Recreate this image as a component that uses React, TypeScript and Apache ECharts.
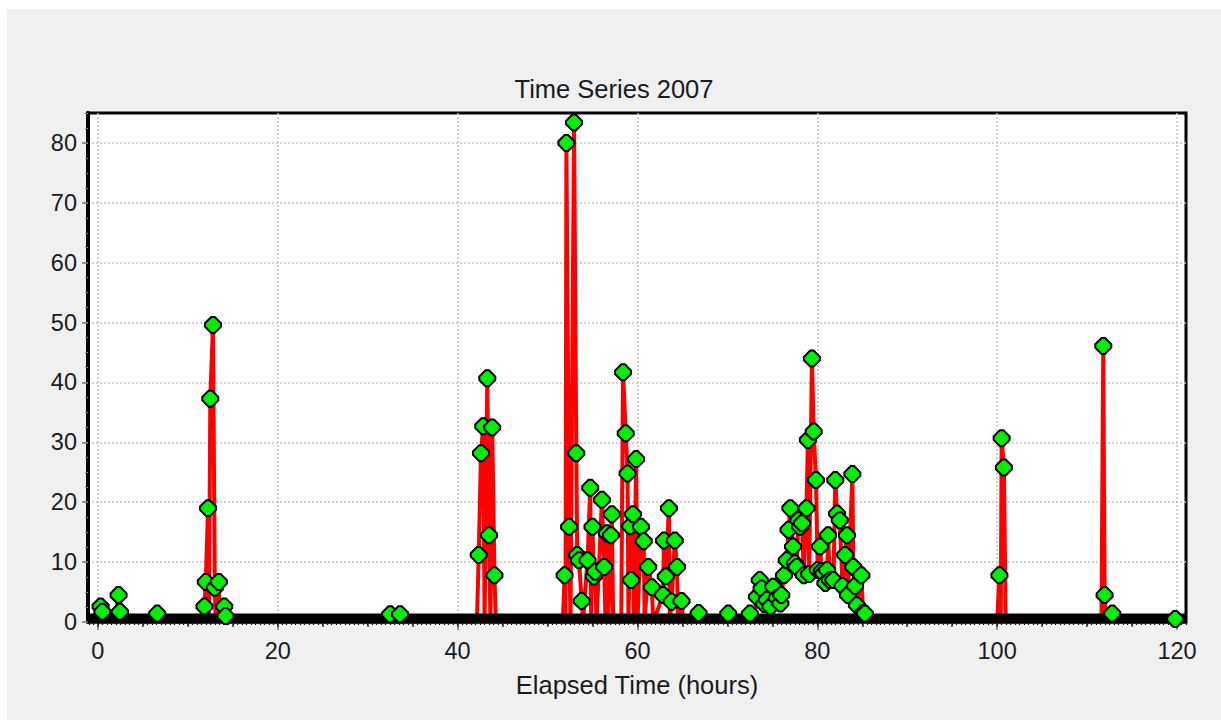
import React, { useEffect, useRef } from "react";
import * as echarts from "echarts";

type Pt = [number, number];

// [elapsed hours, value]
const burstEarly: Pt[] = [
  [0.0, 0], [0.3, 2.6], [0.5, 1.7], [0.65, 0], [1.9, 0], [2.3, 4.5], [2.45, 1.7], [2.6, 0],
  [6.4, 0], [6.6, 1.4], [6.8, 0],
];
const burst12h: Pt[] = [
  [11.6, 0], [11.85, 2.6], [12.0, 6.7], [12.25, 19.0], [12.35, 0], [12.5, 37.3], [12.8, 49.6],
  [13.0, 5.7], [13.1, 0], [13.45, 6.7], [13.55, 0], [14.05, 2.6], [14.2, 1.0], [14.4, 0],
];
const burst33h: Pt[] = [
  [32.3, 0], [32.5, 1.3], [32.7, 0], [33.4, 0], [33.6, 1.3], [33.8, 0],
];
const burst43h: Pt[] = [
  [42.15, 0], [42.35, 11.2], [42.6, 28.2], [42.85, 32.7], [43.0, 0], [43.3, 40.7], [43.5, 14.5],
  [43.65, 0], [43.85, 32.5], [44.1, 7.8], [44.25, 0],
];
const burst52h: Pt[] = [
  [51.7, 0], [51.9, 7.8], [52.0, 0], [52.1, 80.0], [52.4, 15.9], [52.55, 0], [52.95, 83.4],
  [53.2, 28.2], [53.3, 11.2], [53.5, 10.3], [53.8, 3.5], [53.95, 0], [54.45, 10.3], [54.75, 22.4],
  [54.85, 0], [55.0, 15.9], [55.15, 7.6], [55.3, 8.4], [55.45, 0], [56.05, 20.4], [56.3, 9.2],
  [56.45, 0], [56.6, 14.8], [56.75, 0], [57.05, 14.5], [57.15, 18.0], [57.3, 0], [58.2, 0],
  [58.4, 41.7], [58.7, 31.5], [58.9, 24.8], [59.0, 0], [59.2, 16.0], [59.3, 7.0], [59.5, 18.0],
  [59.6, 0], [59.85, 27.2], [60.0, 0], [60.4, 15.9], [60.7, 13.5], [60.8, 0], [61.2, 9.2],
  [61.6, 5.8], [61.75, 0], [62.85, 4.5], [62.95, 13.6], [63.15, 7.6], [63.5, 19.0], [63.6, 0],
  [63.8, 3.4], [64.15, 13.6], [64.4, 9.2], [64.5, 0], [64.9, 3.5], [65.1, 0], [66.6, 0],
  [66.8, 1.5], [67.0, 0],
];
const burst78h: Pt[] = [
  [69.9, 0], [70.1, 1.4], [70.3, 0], [72.3, 0], [72.5, 1.4], [72.9, 0], [73.3, 4.2], [73.6, 7.0],
  [73.8, 5.6], [74.1, 3.0], [74.4, 3.7], [74.8, 2.6], [75.1, 5.9], [75.5, 4.0], [75.9, 3.1],
  [76.0, 4.5], [76.3, 7.8], [76.6, 10.3], [76.8, 15.4], [77.0, 19.0], [77.3, 12.6], [77.5, 9.8],
  [77.7, 9.2], [77.9, 17.0], [78.1, 15.9], [78.3, 16.5], [78.5, 7.8], [78.8, 19.0], [78.95, 30.4],
  [79.1, 8.0], [79.4, 44.0], [79.6, 31.8], [79.85, 23.7], [80.05, 8.7], [80.3, 12.6], [80.5, 8.5],
  [80.7, 8.1], [80.9, 6.5], [81.1, 8.7], [81.2, 14.5], [81.4, 7.0], [81.8, 7.0], [82.0, 23.7],
  [82.2, 18.1], [82.5, 17.0], [82.8, 6.0], [83.1, 11.2], [83.3, 14.5], [83.4, 4.5], [83.9, 24.7],
  [84.0, 9.2], [84.2, 6.0], [84.4, 2.8], [84.9, 7.8], [85.1, 1.5], [85.3, 1.4], [85.5, 0],
];
const burst100h: Pt[] = [
  [100.0, 0], [100.25, 7.8], [100.4, 0], [100.5, 30.7], [100.75, 25.8], [100.95, 0],
];
const burst112h: Pt[] = [
  [111.6, 0], [111.8, 46.1], [111.95, 4.5], [112.1, 0], [112.6, 0], [112.8, 1.4], [113.0, 0],
];
const burstEnd: Pt[] = [[119.6, 0], [119.8, 0.5], [120.0, 0]];

const xTickLabels = [0, 20, 40, 60, 80, 100, 120];
const yTickLabels = [0, 10, 20, 30, 40, 50, 60, 70, 80];

const X_MIN = -1.1;
const X_MAX = 121;
const Y_MAX = 85;
const BAND_LEVEL = 0.6;

export default function App() {
  const ref = useRef<HTMLDivElement>(null);

  useEffect(() => {
    if (!ref.current) return;
    const chart = echarts.init(ref.current, undefined, { renderer: "svg" });

    const allPoints: Pt[] = [
      ...burstEarly, ...burst12h, ...burst33h, ...burst43h, ...burst52h,
      ...burst78h, ...burst100h, ...burst112h, ...burstEnd,
    ];
    const markerPoints = allPoints.filter((p) => p[1] > 0);

    const xMid: number[] = [];
    for (let v = 0; v <= 120; v += 5) xMid.push(v);
    const xMinor: number[] = [];
    for (let i = -2; i <= 242; i++) xMinor.push(i * 0.5);
    const yMinor: number[] = [];
    for (let i = 1; i <= 34; i++) yMinor.push(i * 2.5);

    const font = "'Liberation Sans', Arial, sans-serif";
    const textColor = "#1a1a22";

    const hiddenAxisBits = {
      axisLine: { show: false, onZero: false },
      axisLabel: { show: false },
      splitLine: { show: false },
    };

    chart.setOption({
      animation: false,
      backgroundColor: "#f0f0f0",
      title: {
        text: "Time Series 2007",
        left: "center",
        top: 62,
        textStyle: { fontFamily: font, fontSize: 25.5, fontWeight: "normal", color: textColor },
      },
      grid: {
        left: 81,
        right: 35,
        top: 104,
        bottom: 98,
        show: true,
        backgroundColor: "#ffffff",
        borderColor: "#000000",
        borderWidth: 3,
      },
      xAxis: [
        {
          type: "value",
          min: X_MIN,
          max: X_MAX,
          minInterval: 20,
          maxInterval: 20,
          name: "Elapsed Time (hours)",
          nameLocation: "middle",
          nameGap: 50,
          nameTextStyle: { fontFamily: font, fontSize: 25.5, color: textColor },
          axisLine: { show: true, onZero: false, lineStyle: { color: "#000", width: 2 } },
          axisTick: { show: true, customValues: xTickLabels, length: 8, lineStyle: { color: "#777", width: 1.5 } },
          axisLabel: {
            customValues: xTickLabels,
            margin: 17,
            fontFamily: font,
            fontSize: 23.5,
            color: textColor,
          },
          splitLine: { show: true, lineStyle: { color: "#c4c4c4", type: [2, 2], width: 1.5 } },
        },
        {
          type: "value",
          min: X_MIN,
          max: X_MAX,
          position: "bottom",
          axisTick: { show: true, customValues: xMid, length: 5, lineStyle: { color: "#333", width: 1.5 } },
          ...hiddenAxisBits,
        },
        {
          type: "value",
          min: X_MIN,
          max: X_MAX,
          position: "bottom",
          axisTick: { show: true, customValues: xMinor, length: 3, lineStyle: { color: "#111", width: 1.2 } },
          ...hiddenAxisBits,
        },
      ],
      yAxis: [
        {
          type: "value",
          min: 0,
          max: Y_MAX,
          interval: 10,
          axisLine: { show: true, onZero: false, lineStyle: { color: "#000", width: 4 } },
          axisTick: { show: true, customValues: yTickLabels, length: 6, lineStyle: { color: "#777", width: 1.5 } },
          axisLabel: {
            customValues: yTickLabels,
            margin: 11,
            fontFamily: font,
            fontSize: 23.5,
            color: textColor,
          },
          splitLine: { show: true, lineStyle: { color: "#c4c4c4", type: [2, 2], width: 1.5 } },
        },
        {
          type: "value",
          min: 0,
          max: Y_MAX,
          position: "left",
          axisTick: { show: true, customValues: yMinor, length: 3, lineStyle: { color: "#777", width: 1.2 } },
          ...hiddenAxisBits,
        },
      ],
      series: [
        {
          type: "line",
          data: allPoints,
          showSymbol: false,
          symbol: "none",
          lineStyle: { color: "#ff0000", width: 4 },
          z: 2,
        },
        {
          type: "line",
          data: [[X_MIN, BAND_LEVEL], [X_MAX, BAND_LEVEL]],
          symbol: "none",
          lineStyle: { color: "#000000", width: 10 },
          silent: true,
          z: 3,
        },
        {
          type: "scatter",
          data: markerPoints,
          symbol: "path://M5.5,0 L8.5,0 L14,5.5 L14,8.5 L8.5,14 L5.5,14 L0,8.5 L0,5.5 Z",
          symbolSize: 16,
          itemStyle: { color: "#00ee00", borderColor: "#000000", borderWidth: 2, opacity: 1 },
          z: 4,
        },
      ],
    });

    return () => chart.dispose();
  }, []);

  return (
    <div
      ref={ref}
      style={{ position: "fixed", left: 7, top: 9, width: 1214, height: 711, background: "#f0f0f0" }}
    />
  );
}
